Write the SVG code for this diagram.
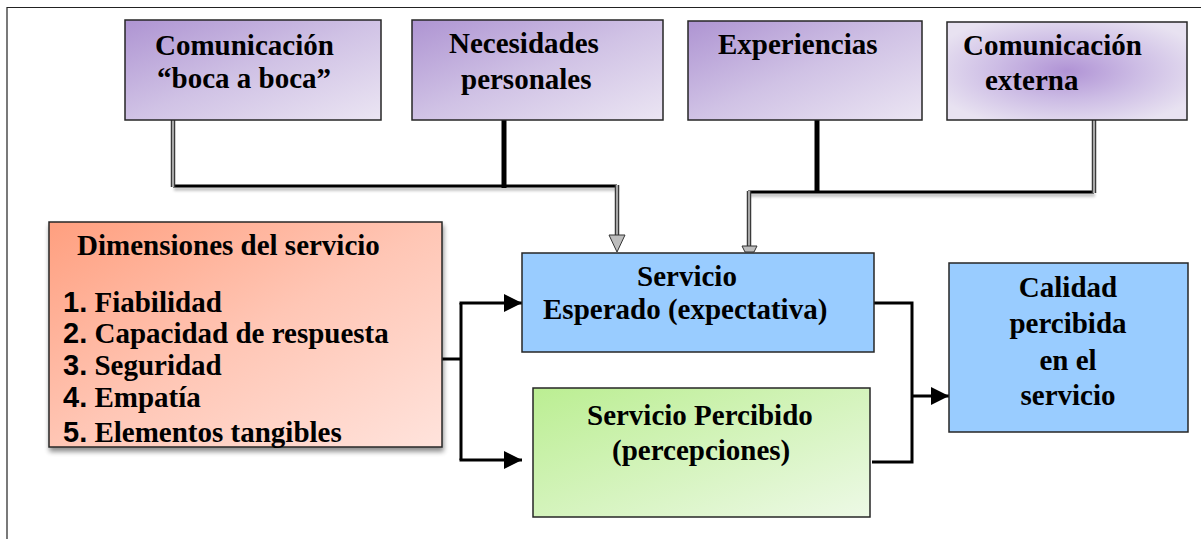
<svg xmlns="http://www.w3.org/2000/svg" width="1201" height="539" viewBox="0 0 1201 539">
<defs>
<linearGradient id="gPurple" x1="0" y1="0" x2="1" y2="1">
<stop offset="0" stop-color="#ae94d2"/>
<stop offset="0.5" stop-color="#d0c2e5"/>
<stop offset="1" stop-color="#ebe5f3"/>
</linearGradient>
<radialGradient id="gPurpleR" cx="0.5" cy="0.5" r="0.6">
<stop offset="0" stop-color="#b093d5"/>
<stop offset="0.5" stop-color="#cdbde5"/>
<stop offset="1" stop-color="#e8e2f1"/>
</radialGradient>
<linearGradient id="gSalmon" x1="0" y1="0" x2="1" y2="1">
<stop offset="0" stop-color="#ff9f7f"/>
<stop offset="0.5" stop-color="#ffc6b5"/>
<stop offset="1" stop-color="#ffe3dc"/>
</linearGradient>
<linearGradient id="gGreen" x1="0" y1="0" x2="1" y2="1">
<stop offset="0" stop-color="#bbee92"/>
<stop offset="1" stop-color="#edf9e6"/>
</linearGradient>
<filter id="shadow" x="-5%" y="-5%" width="115%" height="120%">
<feGaussianBlur in="SourceAlpha" stdDeviation="2.5"/>
<feOffset dx="1" dy="4" result="b"/>
<feComponentTransfer><feFuncA type="linear" slope="0.45"/></feComponentTransfer>
<feMerge><feMergeNode/><feMergeNode in="SourceGraphic"/></feMerge>
</filter>
<filter id="lshadow" x="-5%" y="-50%" width="110%" height="300%">
<feGaussianBlur in="SourceAlpha" stdDeviation="1.5"/>
<feOffset dx="1" dy="3" result="b"/>
<feComponentTransfer><feFuncA type="linear" slope="0.3"/></feComponentTransfer>
<feMerge><feMergeNode/><feMergeNode in="SourceGraphic"/></feMerge>
</filter>
<marker id="arrow" markerWidth="18" markerHeight="18" refX="18" refY="9" orient="auto" markerUnits="userSpaceOnUse">
<path d="M0,0 L18,9 L0,18 Z" fill="#000"/>
</marker>
</defs>
<style>
.box{stroke:#262626;stroke-width:1.5}
.blk{fill:none;stroke:#000;stroke-width:3}
.thick{fill:none;stroke:#000;stroke-width:5}
.dblo{fill:none;stroke:#3a3a3a;stroke-width:4.5}
.dbli{fill:none;stroke:#a8a8a8;stroke-width:2}
.frame{fill:none;stroke:#222;stroke-width:1.2}
</style>
<rect width="1201" height="539" fill="#fff"/>
<path class="frame" d="M7,539 L7,7.5 L1201,7.5"/>

<g id="connectors">
<g filter="url(#lshadow)">
<path class="blk" d="M173,186 L617,186"/>
<path class="blk" d="M748,192 L1094,192"/>
</g>
<path class="dblo" d="M173,120 L173,187"/>
<path class="dbli" d="M173,120 L173,187"/>
<path class="dblo" d="M617,185 L617,236"/>
<path class="dbli" d="M617,185 L617,236"/>
<polygon points="609,235 625,235 617,252" fill="#bdbdbd" stroke="#333" stroke-width="1"/>
<path class="dblo" d="M749,191 L749,247"/>
<path class="dbli" d="M749,191 L749,247"/>
<polygon points="742,246 757,246 754,252 745,252" fill="#bdbdbd" stroke="#333" stroke-width="1"/>
<path class="dblo" d="M1094,120 L1094,193"/>
<path class="dbli" d="M1094,120 L1094,193"/>
<path class="thick" d="M504,120 L504,188"/>
<path class="thick" d="M817,120 L817,191"/>
<path class="blk" d="M442,359 L461,359"/>
<path class="blk" d="M461,303 L461,460"/>
<path class="blk" d="M459.5,303 L522,303" marker-end="url(#arrow)"/>
<path class="blk" d="M459.5,460 L522,460" marker-end="url(#arrow)"/>
<path class="blk" d="M874,303 L912,303 L912,462 L872,462"/>
<path class="blk" d="M912,396 L949,396" marker-end="url(#arrow)"/>
</g>

<g font-family="'Liberation Serif', 'Times New Roman', 'DejaVu Serif', serif" font-weight="bold" font-size="29" fill="#000">
<g id="n-boca">
<rect class="box" x="125" y="20" width="256" height="100" fill="url(#gPurple)"/>
<text x="155" y="55">Comunicación</text>
<text x="157" y="88">“boca a boca”</text>
</g>
<g id="n-necesidades">
<rect class="box" x="412" y="20" width="251" height="100" fill="url(#gPurple)"/>
<text x="449" y="53">Necesidades</text>
<text x="461" y="89">personales</text>
</g>
<g id="n-experiencias">
<rect class="box" x="688" y="21" width="234" height="99" fill="url(#gPurple)"/>
<text x="718" y="54">Experiencias</text>
</g>
<g id="n-externa">
<rect class="box" x="947" y="22" width="240" height="98" fill="url(#gPurpleR)"/>
<text x="963" y="55">Comunicación</text>
<text x="985" y="90">externa</text>
</g>
<g id="n-dimensiones">
<rect class="box" x="49" y="222" width="393" height="225" fill="url(#gSalmon)" filter="url(#shadow)"/>
<text x="77" y="255">Dimensiones del servicio</text>
<text x="63" y="312"><tspan font-family="'Liberation Sans', Arial, sans-serif">1.</tspan> Fiabilidad</text>
<text x="63" y="343"><tspan font-family="'Liberation Sans', Arial, sans-serif">2.</tspan> Capacidad de respuesta</text>
<text x="63" y="375"><tspan font-family="'Liberation Sans', Arial, sans-serif">3.</tspan> Seguridad</text>
<text x="63" y="407"><tspan font-family="'Liberation Sans', Arial, sans-serif">4.</tspan> Empatía</text>
<text x="63" y="442"><tspan font-family="'Liberation Sans', Arial, sans-serif">5.</tspan> Elementos tangibles</text>
</g>
<g id="n-esperado">
<rect class="box" x="522" y="253" width="352" height="99" fill="#99ccff"/>
<text x="687" y="286" text-anchor="middle">Servicio</text>
<text x="543" y="319">Esperado (expectativa)</text>
</g>
<g id="n-percibido">
<rect class="box" x="533" y="388" width="337" height="129" fill="url(#gGreen)"/>
<text x="587" y="425">Servicio Percibido</text>
<text x="612" y="460">(percepciones)</text>
</g>
<g id="n-calidad">
<rect class="box" x="949" y="263" width="239" height="169" fill="#99ccff"/>
<text x="1068" y="297" text-anchor="middle">Calidad</text>
<text x="1068" y="333" text-anchor="middle">percibida</text>
<text x="1068" y="370" text-anchor="middle">en el</text>
<text x="1068" y="405" text-anchor="middle">servicio</text>
</g>
</g>
</svg>
